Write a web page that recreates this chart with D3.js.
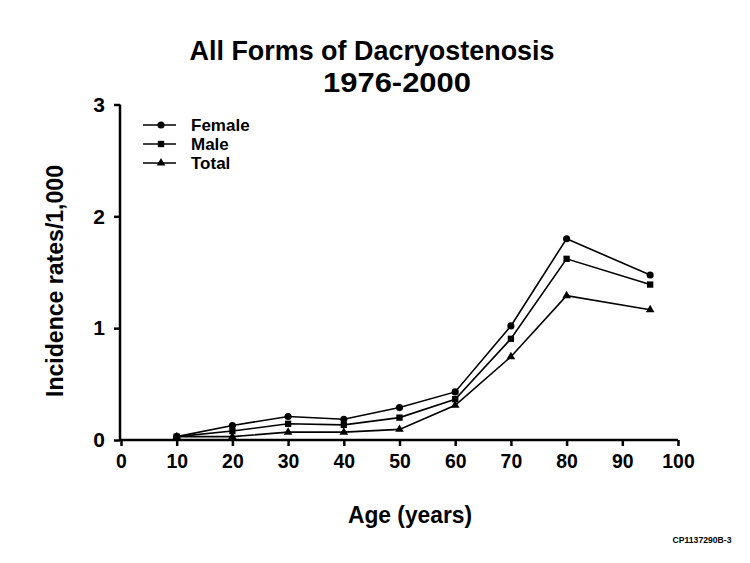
<!DOCTYPE html>
<html><head><meta charset="utf-8">
<script src="https://cdn.jsdelivr.net/npm/d3@7"></script>
<style>body{margin:0;background:#fff}svg{display:block}text{font-family:"Liberation Sans",Arial,sans-serif;font-weight:bold;fill:#000}</style>
</head><body>
<script>
const ages = [10, 20, 30, 40, 50, 60, 70, 80, 95];
const female = [0.03, 0.13, 0.21, 0.185, 0.29, 0.43, 1.02, 1.80, 1.475];
const male = [0.03, 0.08, 0.145, 0.135, 0.20, 0.365, 0.905, 1.62, 1.39];
const total = [0.03, 0.03, 0.07, 0.07, 0.095, 0.31, 0.745, 1.29, 1.165];
const xTicks = [0,10,20,30,40,50,60,70,80,90,100];
const yTicks = [0,1,2,3];
const seriesNames = ["Female","Male","Total"];
const symbols = [d3.symbolCircle, d3.symbolSquare, d3.symbolTriangle];
const symSizes = [40, 40, 32];

const W=750,H=563;
const svg=d3.select("body").append("svg").attr("width",W).attr("height",H);
const x=d3.scaleLinear().domain([0,100]).range([121,678]);
const y=d3.scaleLinear().domain([0,3]).range([440,104.5]);

svg.append("text").attr("x",372).attr("y",60).attr("text-anchor","middle").attr("font-size",28)
  .attr("textLength",365).attr("lengthAdjust","spacingAndGlyphs").text("All Forms of Dacryostenosis");
svg.append("text").attr("x",397).attr("y",92).attr("text-anchor","middle").attr("font-size",28)
  .attr("textLength",148).attr("lengthAdjust","spacingAndGlyphs").text("1976-2000");

const xa=svg.append("g").attr("transform","translate(0,440)").call(d3.axisBottom(x).tickValues(xTicks).tickSize(6).tickPadding(7).tickFormat(d3.format("d")));
const ya=svg.append("g").attr("transform","translate(120,0)").call(d3.axisLeft(y).tickValues(yTicks).tickSize(6).tickPadding(9).tickFormat(d3.format("d")));
[xa,ya].forEach(a=>{a.select(".domain").attr("stroke","#000").attr("stroke-width",2.5);a.selectAll(".tick line").attr("stroke","#000").attr("stroke-width",2.5);a.selectAll("text").attr("font-size",21).attr("font-family","Liberation Sans, Arial, sans-serif").attr("font-weight","bold").attr("fill","#000");});
xa.select(".domain").attr("d",`M${x(0)-1},0H${x(100)}`);
ya.select(".domain").attr("d",`M0,${y(0)}V${y(3)}`);
xa.selectAll(".tick text").attr("textLength",d=>String(d).length*10.8).attr("lengthAdjust","spacingAndGlyphs");

svg.append("text").attr("x",410).attr("y",523).attr("text-anchor","middle").attr("font-size",23)
  .attr("textLength",124).attr("lengthAdjust","spacingAndGlyphs").text("Age (years)");
svg.append("text").attr("transform","translate(63,281) rotate(-90)").attr("text-anchor","middle").attr("font-size",23)
  .attr("textLength",232).attr("lengthAdjust","spacingAndGlyphs").text("Incidence rates/1,000");
svg.append("text").attr("x",702).attr("y",543).attr("text-anchor","middle").attr("font-size",8.5)
  .attr("textLength",59).attr("lengthAdjust","spacingAndGlyphs").text("CP1137290B-3");

const data=[female,male,total];
const line=d3.line().x((d,i)=>x(ages[i])).y(d=>y(d));
data.forEach((s,k)=>{
  svg.append("path").datum(s).attr("d",line).attr("fill","none").attr("stroke","#000").attr("stroke-width",1.6);
  svg.selectAll(null).data(s).enter().append("path")
    .attr("d",d3.symbol().type(symbols[k]).size(symSizes[k]))
    .attr("transform",(d,i)=>`translate(${x(ages[i])},${y(d)})`).attr("fill","#000");
});

const lg=svg.append("g");
seriesNames.forEach((n,k)=>{
  const yy=125+k*19;
  lg.append("line").attr("x1",143).attr("x2",176).attr("y1",yy).attr("y2",yy).attr("stroke","#000").attr("stroke-width",1.6);
  lg.append("path").attr("d",d3.symbol().type(symbols[k]).size(symSizes[k])).attr("transform",`translate(161,${yy})`).attr("fill","#000");
  lg.append("text").attr("x",191).attr("y",yy+6).attr("font-size",17).text(n);
});
</script>
</body></html>
